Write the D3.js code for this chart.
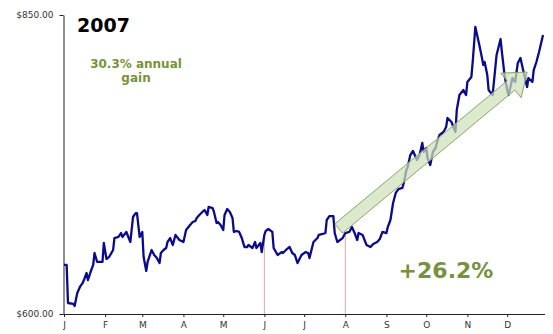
<!DOCTYPE html>
<html>
<head>
<meta charset="utf-8">
<script src="https://cdn.jsdelivr.net/npm/d3@7"></script>
<style>
  html, body { margin: 0; padding: 0; background: #fff; }
  svg { display: block; font-family: "DejaVu Sans", Verdana, sans-serif; }
</style>
</head>
<body>
<svg id="chart" width="553" height="334"></svg>
<script>
// 2007 daily closes: day offset from Jan 1 and closing price
const dayOfYear = [0,2,3,7,8,10,12,14,15,17,18,20,22,23,25,27,29,30,32,34,37,38,41,43,44,47,50,52,54,55,57,59,60,62,63,66,68,70,72,73,75,77,78,80,82,84,87,90,92,95,97,99,100,102,105,106,108,109,112,113,115,116,118,120,121,123,125,127,128,130,132,134,136,138,139,142,144,145,148,149,151,152,154,157,158,161,164,165,168,170,172,174,176,179,182,184,185,188,191,192,195,197,198,200,203,204,206,210,212,215,217,219,221,222,225,228,231,233,236,238,240,243,244,246,248,250,252,255,256,257,258,259,261,263,265,266,268,270,271,273,274,276,278,280,281,283,286,288,289,292,295,296,298,301,303,304,307,308,310,313,315,316,317,319,320,323,324,326,329,330,332,334,335,338,340,342,344,346,349,350,353,354,356,358,361];
const closePrice = [641.0,641.0,609.2,608.4,606.7,617.6,622.6,625.9,628.4,634.3,628.4,635.1,641.0,651.0,643.5,643.5,643.5,659.4,646.0,647.7,653.5,663.5,664.4,667.7,664.4,668.6,660.2,681.1,684.4,684.4,664.4,668.6,647.7,636.0,643.5,653.5,649.3,646.8,642.6,651.0,653.5,655.2,660.2,663.5,657.7,666.1,661.9,660.2,670.2,674.4,676.9,677.8,680.3,682.8,686.1,686.9,682.8,689.5,688.6,685.3,676.1,676.9,674.4,670.2,682.8,687.8,685.3,680.3,668.6,669.4,668.6,663.5,656.0,656.0,657.7,655.2,660.2,655.2,659.4,651.8,666.1,669.4,671.1,668.6,655.2,649.3,651.8,651.0,654.3,656.0,651.0,649.3,642.6,649.3,651.8,651.0,646.8,660.2,663.5,666.1,666.9,667.7,678.6,681.9,681.9,667.7,660.2,663.5,667.7,668.6,672.7,667.7,661.9,667.7,666.1,657.7,656.0,658.5,660.2,662.7,668.6,667.7,672.7,678.6,692.8,701.2,704.5,705.4,709.5,714.5,720.4,722.9,732.9,736.3,731.3,728.8,732.9,743.0,735.5,738.8,730.4,724.6,735.5,738.8,743.0,749.7,752.2,756.4,763.9,760.5,752.2,770.6,783.1,787.3,783.1,794.0,798.2,810.7,840.0,824.9,814.0,808.2,810.7,799.8,787.3,783.1,794.0,816.6,829.9,819.1,799.8,787.3,783.1,797.3,794.0,809.9,814.0,804.0,789.8,797.3,794.0,804.0,810.7,819.1,833.3];

const monthLabels = ["J","F","M","A","M","J","J","A","S","O","N","D"];
const yTickValues = [600, 850];
const markerMonths = [5, 7];          // Jun 1 and Aug 1 drop lines
const yearTitle = "2007";
const annualGainText = ["30.3% annual", "gain"];
const trendGainText = "+26.2%";
// trend arrow: start and tip as [day offset, price]
const trendStart = [207.6, 671.5];
const trendTip = [349, 802.3];

const toDate = d => new Date(2007, 0, 1 + d);
const series = dayOfYear.map((d, i) => ({ date: toDate(d), price: closePrice[i] }));

const svg = d3.select("#chart");
const x = d3.scaleTime()
  .domain([new Date(2007, 0, 1), new Date(2007, 11, 31)])
  .range([64, 547]);
const y = d3.scaleLinear().domain([600, 850]).range([314, 15]);

const axisColor = "#222";
const green = "#76923c";

// drop lines from the price on the marker dates
const bisect = d3.bisector(d => d.date).left;
function priceAt(date) {
  const i = bisect(series, date);
  if (i <= 0) return series[0].price;
  if (i >= series.length) return series[series.length - 1].price;
  const a = series[i - 1], b = series[i];
  const t = (date - a.date) / (b.date - a.date);
  return a.price + t * (b.price - a.price);
}
svg.append("g").selectAll("line")
  .data(markerMonths)
  .join("line")
  .attr("x1", m => x(new Date(2007, m, 1)))
  .attr("x2", m => x(new Date(2007, m, 1)))
  .attr("y1", m => y(priceAt(new Date(2007, m, 1))))
  .attr("y2", y(600))
  .attr("stroke", "#dba8a8")
  .attr("stroke-width", 1);

// price line
const line = d3.line().x(d => x(d.date)).y(d => y(d.price)).curve(d3.curveLinear);
svg.append("path")
  .datum(series)
  .attr("d", line)
  .attr("fill", "none")
  .attr("stroke", "#0a0a8c")
  .attr("stroke-width", 2.3)
  .attr("stroke-linejoin", "round");

// trend arrow drawn over the line
(function drawArrow() {
  const x0 = x(toDate(trendStart[0])), y0 = y(trendStart[1]);
  const x1 = x(toDate(trendTip[0])), y1 = y(trendTip[1]);
  const len = Math.hypot(x1 - x0, y1 - y0);
  const ux = (x1 - x0) / len, uy = (y1 - y0) / len;
  const px = -uy, py = ux;
  const shaftHalf = 6, headHalf = 16, headLen = 21;
  const bx = x1 - ux * headLen, by = y1 - uy * headLen;
  const pts = [
    [x0 + px * shaftHalf, y0 + py * shaftHalf],
    [bx + px * shaftHalf, by + py * shaftHalf],
    [bx + px * headHalf, by + py * headHalf],
    [x1, y1],
    [bx - px * headHalf, by - py * headHalf],
    [bx - px * shaftHalf, by - py * shaftHalf],
    [x0 - px * shaftHalf, y0 - py * shaftHalf]
  ];
  svg.append("polygon")
    .attr("points", pts.map(p => p.join(",")).join(" "))
    .attr("fill", "#cfe0b8")
    .attr("fill-opacity", 0.72)
    .attr("stroke", "#8aa566")
    .attr("stroke-width", 1)
    .attr("stroke-linejoin", "miter");
})();

// axes
const xAxis = d3.axisBottom(x)
  .tickValues(d3.range(12).map(m => new Date(2007, m, 1)))
  .tickFormat((d, i) => monthLabels[i])
  .tickSizeInner(3)
  .tickSizeOuter(0)
  .tickPadding(5);
const gx = svg.append("g").attr("transform", `translate(0,${y(600)})`).call(xAxis);
gx.select(".domain").attr("d", `M63.5,0.5H545`).attr("stroke", axisColor);

const yAxis = d3.axisLeft(y)
  .tickValues(yTickValues)
  .tickFormat(d => "$" + d3.format(".2f")(d))
  .tickSizeInner(4)
  .tickSizeOuter(0)
  .tickPadding(6);
const gy = svg.append("g").attr("transform", "translate(63.5,0)").call(yAxis);
gy.select(".domain").attr("stroke", axisColor);

[gx, gy].forEach(g => {
  g.selectAll(".tick line").attr("stroke", axisColor);
  g.selectAll(".tick text")
    .attr("font-family", "DejaVu Sans, Verdana, sans-serif")
    .attr("font-size", 9)
    .attr("fill", "#333");
});

// annotations
svg.append("text")
  .attr("x", 77).attr("y", 32)
  .attr("font-size", 19).attr("font-weight", "bold").attr("fill", "#000")
  .text(yearTitle);

svg.append("text")
  .attr("x", 136).attr("y", 68)
  .attr("text-anchor", "middle")
  .attr("font-size", 12).attr("font-weight", "bold").attr("fill", green)
  .selectAll("tspan")
  .data(annualGainText)
  .join("tspan")
  .attr("x", 136)
  .attr("dy", (d, i) => i === 0 ? 0 : 14)
  .text(d => d);

svg.append("text")
  .attr("x", 446).attr("y", 278)
  .attr("text-anchor", "middle")
  .attr("font-size", 22).attr("font-weight", "bold").attr("fill", green)
  .text(trendGainText);
</script>
</body>
</html>
